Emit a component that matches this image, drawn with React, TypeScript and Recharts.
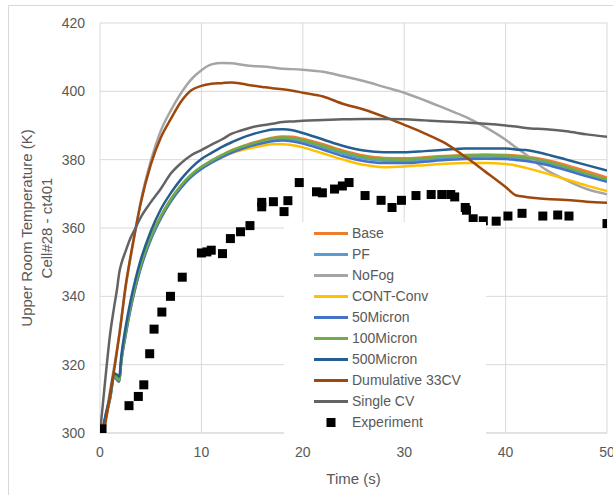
import React from 'react';
import { ComposedChart, Line, Scatter, XAxis, YAxis, CartesianGrid, Legend, Label } from 'recharts';

// Simulation output time grid (s)
const simTime = [0, 0.3, 0.6, 1, 1.4, 1.7, 1.9, 2.1, 2.5, 3, 3.5, 4, 5, 6, 7, 8, 9, 10, 11, 12, 13, 14, 15, 16, 17, 18, 19, 20, 22, 24, 26, 28, 30, 32, 34, 36, 38, 40, 41, 42, 44, 46, 48, 50];

// Upper room temperature (K) per simulation case
const baseK = [300, 301.5, 305.5, 310.5, 317, 316, 315.5, 321.5, 329, 337, 343.5, 349, 357.3, 363.5, 368.5, 372.5, 375.6, 377.9, 379.7, 381.3, 382.8, 383.9, 384.9, 385.7, 386.4, 386.8, 386.7, 386.1, 384.5, 382.6, 381.2, 380.5, 380.4, 380.7, 381.1, 381.4, 381.5, 381.4, 381.2, 380.9, 379.9, 378.4, 376.6, 374.8];
const pfK = [300, 301.5, 305.3, 310.3, 316.8, 315.8, 315.3, 321.2, 328.6, 336.6, 343, 348.6, 356.9, 363.1, 368.1, 372.1, 375.3, 377.6, 379.4, 381, 382.4, 383.5, 384.4, 385.2, 385.8, 386.1, 385.9, 385.3, 383.6, 381.7, 380.3, 379.7, 379.6, 380, 380.5, 380.8, 380.9, 380.8, 380.5, 380.2, 379.1, 377.4, 375.6, 373.9];
const noFogK = [300, 300.5, 305, 312.5, 319.5, 325, 329, 333.5, 342, 351, 359.5, 367.5, 379.5, 388.5, 394.5, 399.5, 403.5, 406.2, 407.9, 408.3, 408.2, 407.8, 407.4, 407.3, 407, 406.6, 406.5, 406.3, 405.7, 404.4, 403, 401.3, 399.6, 397.4, 395, 392.6, 389.5, 385.8, 383.6, 381.5, 377, 374, 371.4, 369.9];
const contConvK = [300, 301.5, 305.2, 310.2, 316.6, 315.4, 315, 321, 328.4, 336.4, 342.8, 348.4, 356.7, 362.9, 367.9, 371.9, 375.1, 377.4, 379.2, 380.7, 381.9, 382.8, 383.5, 384.1, 384.5, 384.5, 384.2, 383.6, 381.8, 380, 378.5, 377.8, 378, 378.4, 378.8, 379, 379, 378.7, 378.3, 377.6, 376, 374.2, 372.4, 370.8];
const micron50K = [300, 301.3, 305, 310, 316.5, 315.5, 315, 320.8, 328, 336, 342.5, 348, 356.5, 362.8, 367.8, 371.8, 375, 377.3, 379.1, 380.7, 382.1, 383.2, 384.1, 384.8, 385.4, 385.6, 385.3, 384.7, 382.9, 381, 379.6, 379, 379, 379.4, 379.9, 380.2, 380.3, 380.2, 379.9, 379.6, 378.5, 376.9, 375.1, 373.5];
const micron100K = [300, 301.5, 305.5, 310.5, 317, 316, 315.5, 321.5, 329, 337, 343.5, 349, 357.3, 363.5, 368.5, 372.5, 375.6, 377.9, 379.7, 381.3, 382.7, 383.8, 384.7, 385.5, 386.2, 386.5, 386.3, 385.7, 384, 382.2, 380.8, 380.1, 380, 380.4, 380.9, 381.2, 381.3, 381.2, 380.9, 380.6, 379.5, 377.8, 375.9, 374.2];
const micron500K = [300, 302, 306, 311, 317.5, 317, 316.5, 322.5, 330.5, 338.5, 345, 350.5, 359, 365.5, 370.3, 374.3, 377.6, 380.2, 382, 383.7, 385.1, 386.4, 387.4, 388.2, 388.8, 388.9, 388.6, 387.8, 385.9, 384, 382.7, 382.2, 382.2, 382.5, 382.9, 383.3, 383.3, 383.3, 383, 382.8, 381.6, 380, 378.4, 376.8];
const dumulativeK = [300, 300, 304, 311.5, 318.5, 324.5, 328.5, 333, 342.5, 351.5, 359.5, 367, 378.5, 386.5, 392, 397, 400.3, 401.6, 402.2, 402.4, 402.6, 402.2, 401.7, 401.3, 400.9, 400.6, 400.2, 399.6, 398.5, 396.3, 394.7, 392.6, 390.2, 387.7, 384.9, 380.9, 376.5, 372, 369.6, 369.1, 368.5, 368.2, 367.7, 367.4];
const singleCvK = [300, 309, 318, 329, 337, 342.5, 347, 349.5, 353, 357, 360, 363, 367.5, 371.5, 376, 379, 381.3, 382.8, 384.4, 385.9, 387.6, 388.6, 389.5, 390.1, 390.5, 391, 391.2, 391.4, 391.6, 391.8, 391.9, 391.9, 391.8, 391.5, 391.2, 390.9, 390.5, 390, 389.7, 389.3, 388.9, 388.3, 387.4, 386.7];

// Measured data
const expTime = [0.2, 2.86, 3.78, 4.32, 4.9, 5.33, 6.1, 6.95, 8.11, 10.0, 10.54, 10.97, 12.08, 12.86, 13.86, 14.79, 15.95, 15.95, 17.1, 18.15, 18.53, 19.65, 21.35, 21.93, 23.13, 23.9, 24.56, 26.14, 27.72, 28.8, 29.73, 31.16, 32.66, 33.71, 34.59, 34.98, 36.02, 36.14, 36.8, 37.8, 39.07, 40.23, 41.62, 43.67, 45.14, 46.25, 50.0];
const expTemp = [301.2, 308.0, 310.7, 314.1, 323.2, 330.4, 335.4, 340.0, 345.6, 352.7, 353.0, 353.5, 352.5, 356.9, 358.9, 360.7, 366.2, 367.5, 367.7, 364.8, 368.0, 373.3, 370.6, 370.3, 371.4, 372.3, 373.3, 369.5, 368.1, 366.0, 368.1, 369.5, 369.8, 369.8, 369.8, 369.1, 366.0, 365.2, 362.7, 362.1, 362.0, 363.5, 364.3, 363.5, 363.8, 363.5, 361.3];

const xTicks = [0, 10, 20, 30, 40, 50];
const yTicks = [300, 320, 340, 360, 380, 400, 420];

const series = [
  { name: 'Base', color: '#ED7D31', values: baseK },
  { name: 'PF', color: '#5B9BD5', values: pfK },
  { name: 'NoFog', color: '#A5A5A5', values: noFogK },
  { name: 'CONT-Conv', color: '#FFC000', values: contConvK },
  { name: '50Micron', color: '#4472C4', values: micron50K },
  { name: '100Micron', color: '#70AD47', values: micron100K },
  { name: '500Micron', color: '#255E91', values: micron500K },
  { name: 'Dumulative 33CV', color: '#9E480E', values: dumulativeK },
  { name: 'Single CV', color: '#636363', values: singleCvK },
];

const simRows = simTime.map((t, i) => {
  const row: Record<string, number> = { t };
  series.forEach((s) => {
    row[s.name] = s.values[i];
  });
  return row;
});

const expRows = expTime.map((t, i) => ({ t, Experiment: expTemp[i] }));

const FONT = '"Liberation Sans", Arial, sans-serif';
const TEXT = '#595959';
const GRID = '#d9d9d9';

const SquareMarker = (props: any) => {
  const { cx, cy } = props;
  if (cx == null || cy == null) return null;
  return <rect x={cx - 4.5} y={cy - 4.5} width={9} height={9} fill="#000" />;
};

const LegendBox = () => {
  const rowH = 21;
  const entries = [...series.map((s) => ({ name: s.name, color: s.color, marker: false })), { name: 'Experiment', color: '#000', marker: true }];
  return (
    <svg width={202} height={212} style={{ display: 'block' }}>
      <rect x={0} y={0} width={202} height={212} fill="#fff" />
      {entries.map((e, i) => {
        const cy = 11.5 + i * rowH;
        return (
          <g key={e.name}>
            {e.marker ? (
              <rect x={47 - 4.5} y={cy - 4.5} width={9} height={9} fill={e.color} />
            ) : (
              <line x1={30} x2={64} y1={cy} y2={cy} stroke={e.color} strokeWidth={3} />
            )}
            <text x={68} y={cy} dy="0.35em" fontSize={14} fill={TEXT} fontFamily={FONT}>
              {e.name}
            </text>
          </g>
        );
      })}
    </svg>
  );
};

const YTitle = (props: any) => {
  const { viewBox } = props;
  const cy = viewBox.y + viewBox.height / 2;
  return (
    <g fontFamily={FONT} fontSize={15} fill={TEXT} textAnchor="middle">
      <text transform={`translate(27, ${cy}) rotate(-90)`} dy="0.35em">Upper Room Temperature (K)</text>
      <text transform={`translate(47, ${cy}) rotate(-90)`} dy="0.35em">Cell#28 - ct401</text>
    </g>
  );
};

const XTitle = (props: any) => {
  const { viewBox } = props;
  const cx = viewBox.x + viewBox.width / 2;
  return (
    <text x={cx} y={479} dy="0.35em" textAnchor="middle" fontFamily={FONT} fontSize={15} fill={TEXT}>
      Time (s)
    </text>
  );
};

export default function App() {
  return (
    <div style={{ position: 'absolute', left: 0, top: 0, width: 613, height: 495, overflow: 'hidden', background: '#fff' }}>
      <div style={{ position: 'absolute', left: 8, top: 5, width: 800, height: 700, border: `1px solid ${GRID}`, boxSizing: 'border-box' }} />
      <div style={{ position: 'absolute', left: 0, top: 0 }}>
        <ComposedChart width={613} height={495} data={simRows} margin={{ top: 23, right: 6, bottom: 0, left: 0 }}>
          <CartesianGrid stroke={GRID} strokeWidth={1} />
          <XAxis
            dataKey="t"
            type="number"
            domain={[0, 50]}
            ticks={xTicks}
            height={62}
            tickLine={false}
            tickSize={0}
            tickMargin={14}
            axisLine={{ stroke: GRID }}
            tick={{ fontSize: 14, fill: TEXT, fontFamily: FONT }}
            interval={0}
            allowDataOverflow
          >
            <Label content={<XTitle />} />
          </XAxis>
          <YAxis
            type="number"
            domain={[300, 420]}
            ticks={yTicks}
            width={100}
            tickLine={false}
            axisLine={false}
            tickSize={0}
            tickMargin={15}
            tick={{ fontSize: 14, fill: TEXT, fontFamily: FONT }}
            interval={0}
            allowDataOverflow
          >
            <Label content={<YTitle />} />
          </YAxis>
          {series.map((s) => (
            <Line
              key={s.name}
              type="monotone"
              dataKey={s.name}
              stroke={s.color}
              strokeWidth={2.5}
              dot={false}
              activeDot={false}
              isAnimationActive={false}
            />
          ))}
          <Scatter name="Experiment" data={expRows} dataKey="Experiment" fill="#000" shape={<SquareMarker />} isAnimationActive={false} />
          <Legend
            layout="vertical"
            align="center"
            verticalAlign="middle"
            content={<LegendBox />}
            wrapperStyle={{ position: 'absolute', left: 284, top: 222, width: 202, height: 212, right: 'auto', bottom: 'auto', background: '#fff' }}
          />
        </ComposedChart>
      </div>
    </div>
  );
}
